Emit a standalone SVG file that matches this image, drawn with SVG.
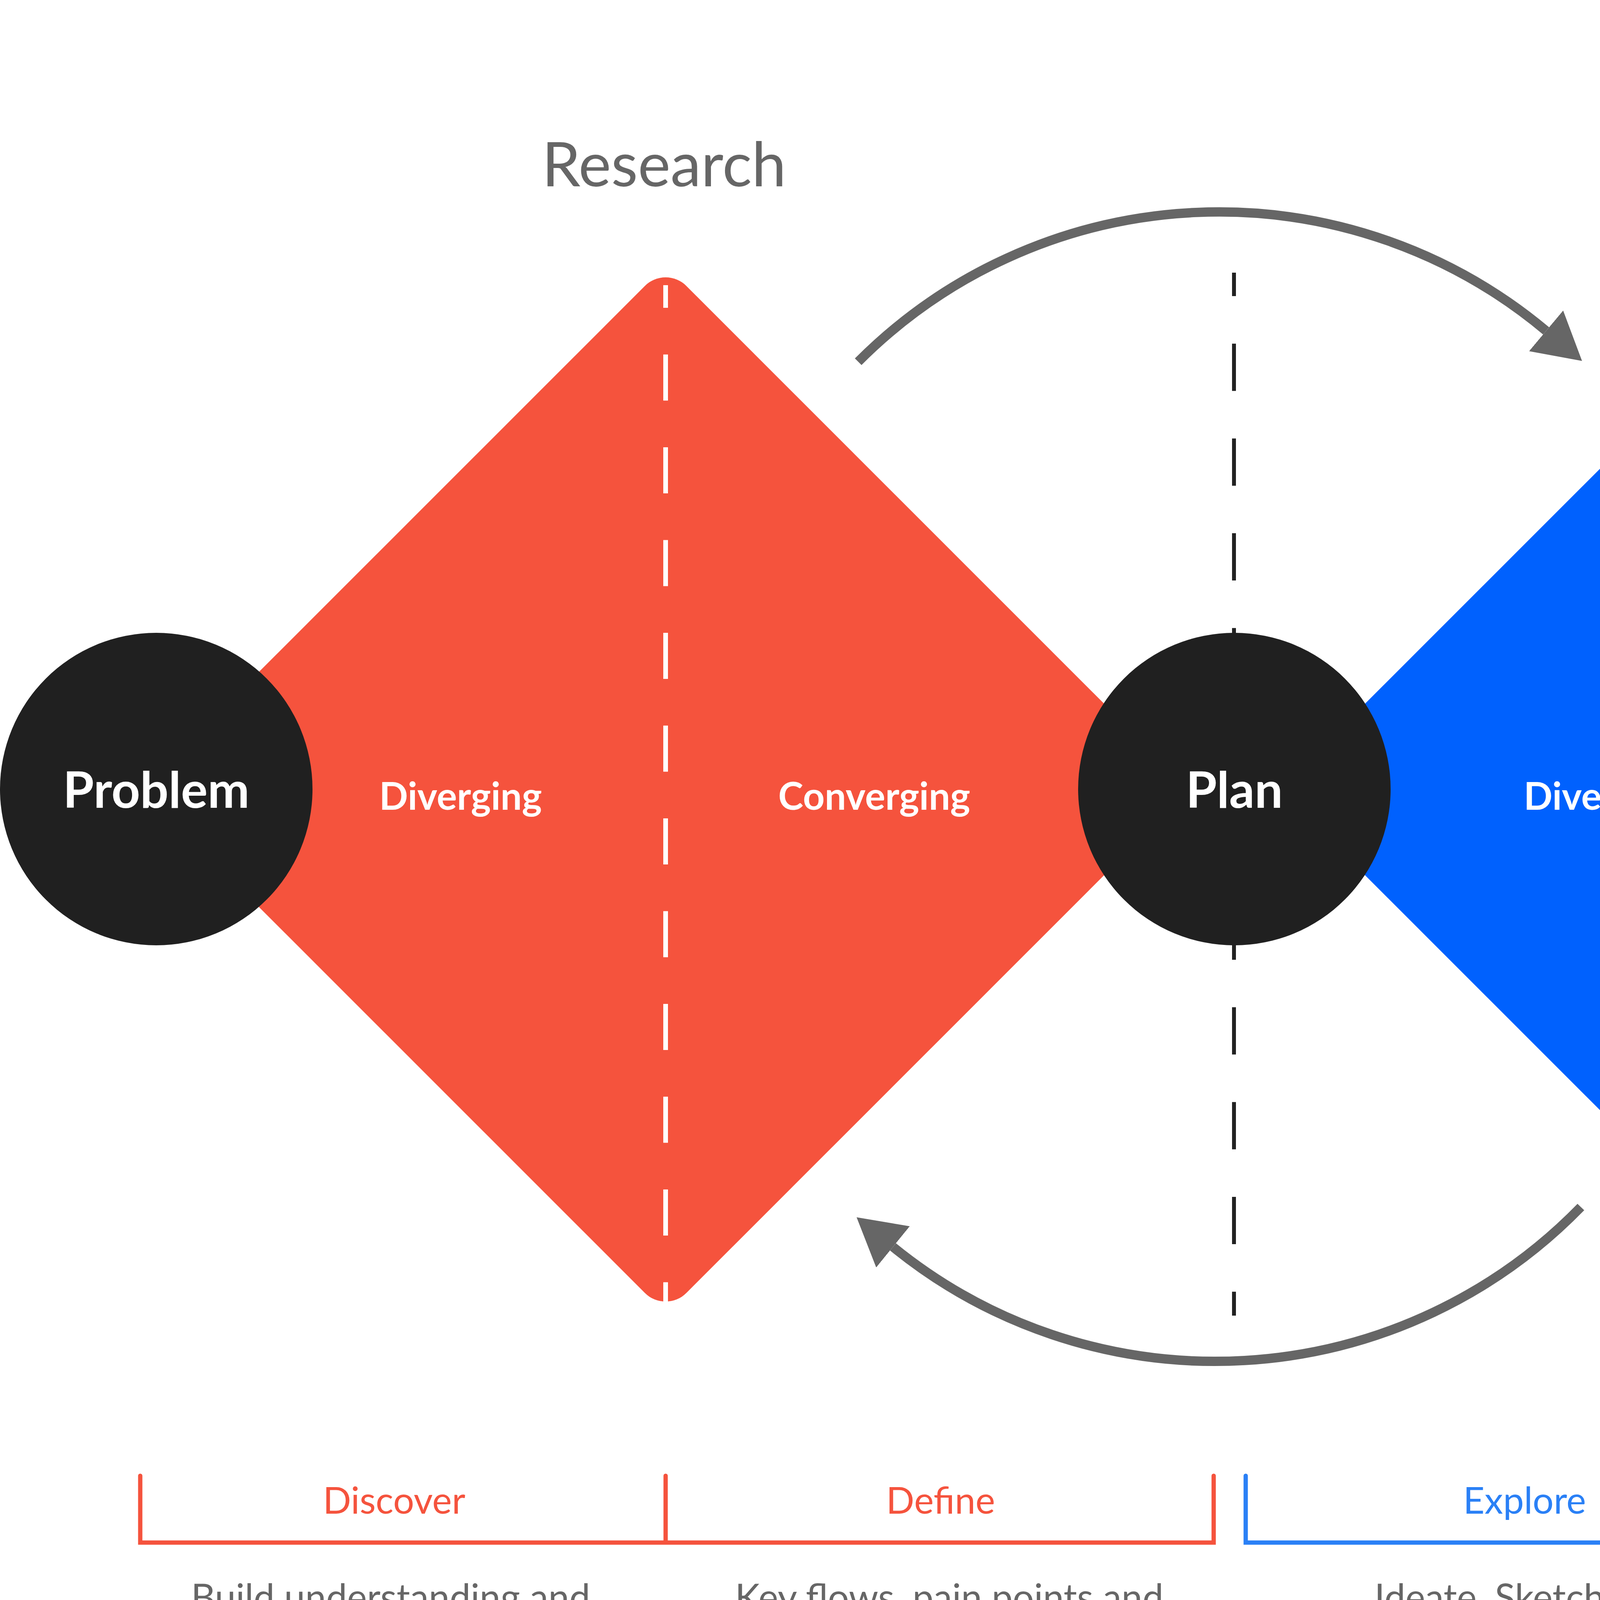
<svg xmlns="http://www.w3.org/2000/svg" width="6356" height="4261" viewBox="0 0 6356 4261">
  <style>
    .title { font-family: Lato, "Liberation Sans", sans-serif; font-size: 158px; fill: #666666; text-anchor: middle; }
    .node { font-family: Lato, "Liberation Sans", sans-serif; font-weight: bold; font-size: 128px; fill: #ffffff; text-anchor: middle; }
    .phase { font-family: Lato, "Liberation Sans", sans-serif; font-weight: bold; font-size: 97px; fill: #ffffff; text-anchor: middle; }
    .step { font-family: Lato, "Liberation Sans", sans-serif; font-size: 95px; text-anchor: middle; }
    .desc { font-family: Lato, "Liberation Sans", sans-serif; font-size: 96px; fill: #666666; text-anchor: middle; }
    .red { fill: #F5533D; }
    .blue { fill: #0061FE; }
    .circle { fill: #202020; }
    .wdash { stroke: #ffffff; stroke-width: 12; stroke-dasharray: 118 119.5; stroke-dashoffset: 60; fill: none; }
    .kdash { stroke: #222222; stroke-width: 10; stroke-dasharray: 121 121.7; stroke-dashoffset: 61; fill: none; }
    .arc { stroke: #666666; stroke-width: 24; fill: none; marker-end: url(#ah); }
    .bracket { fill: none; stroke-width: 11; stroke-linecap: round; stroke-linejoin: miter; }
  </style>
  <defs>
    <marker id="ah" markerUnits="userSpaceOnUse" viewBox="0 -70 125 140" markerWidth="125" markerHeight="140" refX="0" refY="0" orient="auto">
      <path d="M0,-68 L120,0 L0,68 Z" fill="#666666"/>
    </marker>
  </defs>
  <rect width="6356" height="4261" fill="#ffffff"/>

  <g id="titles">
    <text class="title" x="1700" y="477">Research</text>
    <text class="title" x="4614" y="477">Design</text>
  </g>

  <g id="research-diamond">
    <rect class="red" x="-949" y="-949" width="1898" height="1898" rx="75" transform="translate(1704 2021) rotate(45)"/>
    <line class="wdash" x1="1704" y1="730" x2="1704" y2="3340"/>
    <text class="phase" x="1179" y="2073">Diverging</text>
    <text class="phase" x="2238" y="2073">Converging</text>
  </g>

  <g id="design-diamond">
    <rect class="blue" x="-949" y="-949" width="1898" height="1898" rx="75" transform="translate(4617 2021) rotate(45)"/>
    <line class="wdash" x1="4617" y1="730" x2="4617" y2="3340"/>
    <text class="phase" x="4109" y="2073">Diverging</text>
    <text class="phase" x="5100" y="2073">Converging</text>
  </g>

  <g id="connectors">
    <line class="kdash" x1="3159" y1="698" x2="3159" y2="3368"/>
    <path class="arc" d="M2197,926 A1304,1304 0 0 1 3958,847"/>
    <path class="arc" d="M4047,3090 A1307,1307 0 0 1 2286,3192"/>
  </g>

  <g id="problem">
    <circle class="circle" cx="400" cy="2020" r="400"/>
    <text class="node" x="400" y="2068">Problem</text>
  </g>
  <g id="plan">
    <circle class="circle" cx="3160" cy="2020" r="400"/>
    <text class="node" x="3160" y="2068">Plan</text>
  </g>
  <g id="solution">
    <circle class="circle" cx="5955" cy="2020" r="400"/>
    <text class="node" x="5955" y="2068">Solution</text>
  </g>

  <g id="research-steps">
    <path class="bracket" stroke="#F5533D" d="M359,3778 V3949 H3107 V3778 M1704,3778 V3949"/>
    <text class="step" fill="#F5533D" x="1009" y="3875">Discover</text>
    <text class="step" fill="#F5533D" x="2408" y="3875">Define</text>
    <text class="desc" x="1000" y="4124">Build understanding and</text>
    <text class="desc" x="1000" y="4239">empathy</text>
    <text class="desc" x="2430" y="4124">Key flows, pain points and</text>
    <text class="desc" x="2437" y="4239">problem</text>
  </g>

  <g id="design-steps">
    <path class="bracket" stroke="#2A80F6" d="M3189,3778 V3949 H6060 V3778 M4612,3778 V3949"/>
    <text class="step" fill="#2A80F6" x="3903" y="3875">Explore</text>
    <text class="step" fill="#2A80F6" x="5340" y="3875">Execute</text>
    <text class="desc" x="3903" y="4124">Ideate, Sketch and</text>
    <text class="desc" x="3905" y="4239">prototype</text>
    <text class="desc" x="5328" y="4124">Iterate design, test and</text>
    <text class="desc" x="5340" y="4239">implementation</text>
  </g>
</svg>
